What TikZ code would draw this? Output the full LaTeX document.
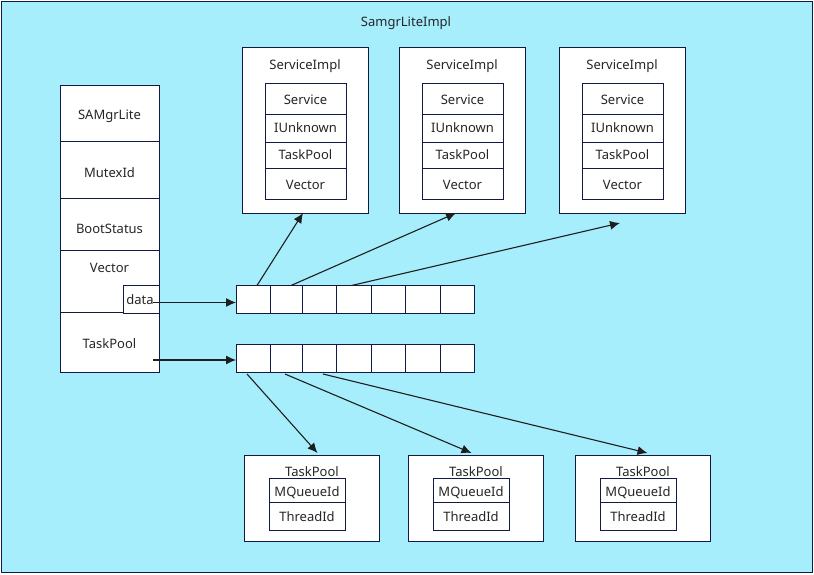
\documentclass[tikz,border=0pt]{standalone}
\usepackage{fontspec}
\setmainfont{Noto Sans}
\usetikzlibrary{arrows.meta,calc}
\definecolor{bgc}{HTML}{A6EEFC}
\definecolor{edge}{HTML}{111A44}
\definecolor{arr}{HTML}{1E1E1E}
\tikzset{
  box/.style={draw=edge,line width=0.9pt,fill=white,inner sep=0pt,outer sep=0pt},
  lbl/.style={inner sep=0pt,font=\fontsize{13}{15}\selectfont,text=black!85},
  conn/.style={draw=arr,line width=1.1pt,-{Latex[length=10pt,width=9pt]}}
}
\begin{document}
\begin{tikzpicture}[x=1pt,y=-1pt]
\useasboundingbox (0,0) rectangle (814,574);
% outer frame
\draw[draw=edge,line width=1pt,fill=bgc] (1,1) rectangle (812,572);
\node[lbl] (title) at (406,23) {SamgrLiteImpl};
% left column
\node[box,minimum width=99pt,minimum height=56pt,anchor=north west] (sam) at (60,85) {};
\node[lbl] at (sam.center) [yshift=-3.5pt] {SAMgrLite};
\node[box,minimum width=99pt,minimum height=57pt,anchor=north west] (mutex) at (60,141) {};
\node[lbl] at (mutex.center) [yshift=-3pt] {MutexId};
\node[box,minimum width=99pt,minimum height=52pt,anchor=north west] (boot) at (60,198) {};
\node[lbl] at (boot.center) [yshift=-5pt] {BootStatus};
\node[box,minimum width=99pt,minimum height=62pt,anchor=north west] (vec) at (60,250) {};
\node[lbl] at (109.5,268) {Vector};
\node[box,minimum width=99pt,minimum height=60pt,anchor=north west] (tp) at (60,312) {};
\node[lbl] at (109.5,344) {TaskPool};
\node[box,minimum width=36pt,minimum height=28pt,anchor=north west] (data) at (123,285) {};
\node[lbl] (datat) at (140,300) {data};
\coordinate (ds) at (153,302.5);
\coordinate (ts) at (153,360);
% arrays
\foreach \i/\a/\b in {1/236/270,2/270/302,3/302/336,4/336/371,5/371/405,6/405/440,7/440/474}{
  \node[box,minimum width={\b-\a},minimum height=28pt,anchor=north west] (c\i) at (\a,285.5) {};
  \node[box,minimum width={\b-\a},minimum height=28pt,anchor=north west] (d\i) at (\a,344) {};
}
\draw[conn] (ds) -- (ds -| c1.west);
\draw[conn] (ts) -- (ts -| d1.west);
% service boxes
\foreach \n/\x in {1/242,2/399,3/559}{
  \node[box,minimum width=126pt,minimum height=166pt,anchor=north west] (s\n) at (\x,47) {};
  \node[lbl] at (\x+63,66) {ServiceImpl};
  \node[box,minimum width=81pt,minimum height=31pt,anchor=north west] (s\n a) at (\x+23,83) {};
  \node[lbl] at (s\n a.center) [yshift=-1pt] {Service};
  \node[box,minimum width=81pt,minimum height=28pt,anchor=north west] (s\n b) at (\x+23,114) {};
  \node[lbl] at (s\n b.center) {IUnknown};
  \node[box,minimum width=81pt,minimum height=26pt,anchor=north west] (s\n c) at (\x+23,142) {};
  \node[lbl] at (s\n c.center) {TaskPool};
  \node[box,minimum width=81pt,minimum height=31pt,anchor=north west] (s\n d) at (\x+23,168) {};
  \node[lbl] at (s\n d.center) [yshift=-1pt] {Vector};
}
% task pool boxes
\foreach \n/\x in {1/244,2/408,3/575}{
  \node[box,minimum width=135pt,minimum height=86pt,anchor=north west] (t\n) at (\x,455) {};
  \node[lbl] at (\x+68,472) {TaskPool};
  \node[box,minimum width=76pt,minimum height=24pt,anchor=north west] (t\n a) at (\x+25,478) {};
  \node[lbl] at (t\n a.center) [yshift=-2.5pt] {MQueueId};
  \node[box,minimum width=76pt,minimum height=28pt,anchor=north west] (t\n b) at (\x+25,502) {};
  \node[lbl] at (t\n b.center) [yshift=-1pt] {ThreadId};
}
% connectors top
\coordinate (free3) at (620,223);
\draw[conn] ([xshift=4pt]c1.north) -- ([xshift=-2pt]s1.south);
\draw[conn] ([xshift=5pt]c2.north) -- ([xshift=-6pt]s2.south);
\draw[conn] ([xshift=-2pt]c4.north) -- (free3);
% connectors bottom
\draw[conn] ([xshift=-6pt,yshift=-2pt]d1.south) -- ([xshift=6pt,yshift=2pt]t1.north);
\draw[conn] ([xshift=-1pt,yshift=-2pt]d2.south) -- ([xshift=-4pt,yshift=2pt]t2.north);
\draw[conn] ([xshift=4pt,yshift=-2pt]d3.south) -- ([xshift=5pt,yshift=2pt]t3.north);
\end{tikzpicture}
\end{document}
